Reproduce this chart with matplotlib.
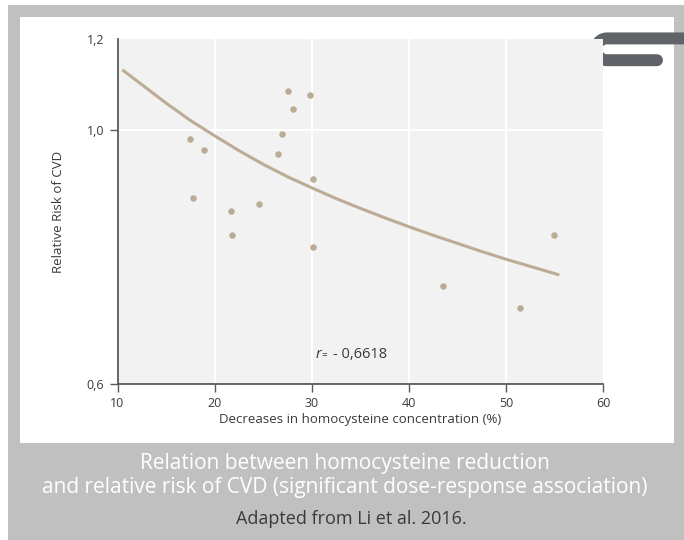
import matplotlib

matplotlib.use("Agg")
import matplotlib.pyplot as plt  # noqa: E402
import numpy as np  # noqa: E402
from matplotlib.patches import Rectangle  # noqa: E402

# Pontos (redução de homocisteína % × risco relativo)
HCY_DECREASE = [17.5, 18.9, 17.8, 21.7, 21.8, 24.6, 26.5, 26.9, 27.6, 28.1,
                29.8, 30.1, 30.1, 43.5, 51.5, 55.0]
RELATIVE_RISK = [0.982, 0.961, 0.871, 0.850, 0.810, 0.861, 0.952, 0.992,
                 1.082, 1.042, 1.073, 0.906, 0.790, 0.730, 0.699, 0.810]

# Curva ajustada, lida ao longo do traço
FIT_X = [10.5, 12.5, 15, 17.5, 20, 22.5, 25, 27.5, 30, 32.5, 35, 37.5, 40,
         42.5, 45, 47.5, 50, 52.5, 55.5]
FIT_RR = [1.128, 1.095, 1.055, 1.019, 0.988, 0.959, 0.933, 0.910, 0.890,
          0.871, 0.854, 0.838, 0.823, 0.809, 0.796, 0.783, 0.771, 0.760,
          0.747]

X_TICKS = [10, 20, 30, 40, 50, 60]
Y_TICKS = [0.6, 1.0, 1.2]
Y_TICK_LABELS = ["0,6", "1,0", "1,2"]
R_TEXT = "- 0,6618"

W, H = 684, 540
TAN = "#bcac96"
FRAME = "#c0c0c0"
PLOT_BG = "#f2f2f2"
INK = "#3a3a3a"
SPINE = "#5a5a5a"
LOGO = "#606468"
FONT = "Open Sans"


def frac(x0, y0, x1, y1):
    """caixa em pixels (origem no topo) -> fração da figura"""
    return [x0 / W, 1 - y1 / H, (x1 - x0) / W, (y1 - y0) / H]


fig = plt.figure(figsize=(W / 100, H / 100), dpi=100)
fig.patch.set_facecolor("white")

# moldura cinza + painel branco + logo
bg = fig.add_axes([0, 0, 1, 1], zorder=0)
bg.set_xlim(0, W)
bg.set_ylim(H, 0)
bg.axis("off")
bg.add_patch(Rectangle((8, 5), W - 8, H - 5, color=FRAME, lw=0))
bg.add_patch(Rectangle((20, 17), 654, 426, color="white", lw=0))
t = np.linspace(np.pi / 2, 3 * np.pi / 2, 40)
lx = np.concatenate([[700], 607 + 10.9 * np.cos(t), [657]])
ly = np.concatenate([[38.4], 49.3 - 10.9 * np.sin(t), [60.2]])
bg.plot(lx, ly, color=LOGO, lw=8.6, solid_capstyle="round",
        solid_joinstyle="round")

ax = fig.add_axes(frac(117.5, 39, 603, 384), zorder=1)
ax.set_facecolor(PLOT_BG)
ax.set_yscale("log")
ax.set_xlim(10, 60)
ax.set_ylim(0.6, 1.2)

ax.plot(FIT_X, FIT_RR, color=TAN, lw=2.2, zorder=3, solid_capstyle="butt",
        solid_joinstyle="round")
ax.scatter(HCY_DECREASE, RELATIVE_RISK, s=22, color=TAN, linewidths=0,
           zorder=4)

ax.set_xticks(X_TICKS)
ax.set_xticklabels([str(v) for v in X_TICKS])
ax.set_yticks(Y_TICKS)
ax.set_yticklabels(Y_TICK_LABELS)
ax.yaxis.set_minor_locator(matplotlib.ticker.NullLocator())
ax.yaxis.get_major_ticks()[2].tick1line.set_visible(False)
ax.tick_params(colors=INK, labelsize=9, length=6, width=1, pad=3.5,
               color=SPINE)
for lbl in ax.get_xticklabels() + ax.get_yticklabels():
    lbl.set_fontfamily(FONT)

ax.grid(False)
for v in [20, 30, 40, 50]:
    ax.axvline(v, color="white", lw=1.5, zorder=1)
ax.axhline(1.0, color="white", lw=1.5, zorder=1)

for side in ("top", "right"):
    ax.spines[side].set_visible(False)
for side in ("left", "bottom"):
    ax.spines[side].set_color(SPINE)
    ax.spines[side].set_linewidth(1.3)

ax.set_xlabel("Decreases in homocysteine concentration (%)", fontsize=9.5,
              color=INK, family=FONT)
ax.xaxis.set_label_coords(0.5, -0.085)
ax.set_ylabel("Relative Risk of CVD", fontsize=9.5, color=INK, family=FONT)
ax.yaxis.set_label_coords(-0.108, 0.5)

ax.text(30.4, 0.637, "r", style="italic", fontsize=10.5, color=INK,
        family=FONT, va="center")
ax.annotate("=", (30.4, 0.637), xytext=(4.5, -1), textcoords="offset points",
            fontsize=7, color=INK, family=FONT, va="center")
ax.annotate(R_TEXT, (30.4, 0.637), xytext=(12.5, 0),
            textcoords="offset points", fontsize=10.5, color=INK,
            family=FONT, va="center")

fig.text(345 / W, 1 - 463 / H, "Relation between homocysteine reduction",
         ha="center", va="center", fontsize=15, color="white",
         family=FONT)
fig.text(345 / W, 1 - 488 / H,
         "and relative risk of CVD (significant dose-response association)",
         ha="center", va="center", fontsize=15, color="white",
         family=FONT)
fig.text(351 / W, 1 - 519 / H, "Adapted from Li et al. 2016.",
         ha="center", va="center", fontsize=13, color=INK, family=FONT)

fig.savefig("out.png", dpi=100, facecolor="white")
